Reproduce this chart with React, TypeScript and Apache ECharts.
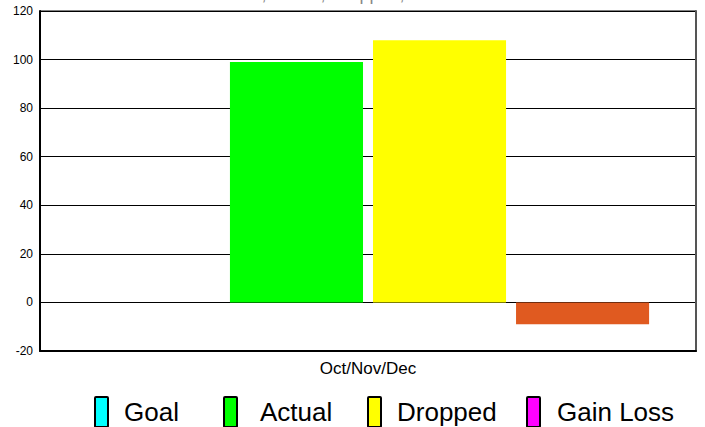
import React, { useEffect, useRef } from "react";
import * as echarts from "echarts";

const categories = ["Oct/Nov/Dec"];
const seriesNames = ["Goal", "Actual", "Dropped", "Gain Loss"];
const goalValues = [0];
const actualValues = [99];
const droppedValues = [108];
const gainLossValues = [-9];
const legendColors = ["#00FFFF", "#00FF00", "#FFFF00", "#FF00FF"];
const gainLossBarColor = "#E05A20";
const titleText = "Goal, Actual, Dropped, Gain Loss";

export default function App() {
  const ref = useRef<HTMLDivElement>(null);
  useEffect(() => {
    if (!ref.current) return;
    const chart = echarts.init(ref.current, null, { renderer: "svg" });
    const font = "Arial, 'Liberation Sans', sans-serif";
    const valueSets = [goalValues, actualValues, droppedValues, gainLossValues];
    const legendLefts = [94, 223, 367, 526];
    const legendTextPads = [11, 18, 11, 12];
    chart.setOption({
      animation: false,
      textStyle: { fontFamily: font },
      graphic: [
        {
          type: "text",
          style: {
            text: titleText,
            x: 357,
            y: 3,
            align: "center",
            verticalAlign: "bottom",
            font: `18px ${font}`,
            fill: "#888888",
          },
        },
      ],
      grid: {
        left: 40,
        right: 9,
        top: 11,
        bottom: 76,
        show: true,
        borderColor: "#000",
        borderWidth: 1,
        backgroundColor: "transparent",
      },
      legend: seriesNames.map((name, i) => ({
        data: [name],
        top: 396,
        left: legendLefts[i],
        padding: 0,
        itemWidth: 13,
        itemHeight: 30,
        icon: "path://M1,0 H12 Q13,0 13,1 V29 Q13,30 12,30 H1 Q0,30 0,29 V1 Q0,0 1,0 Z",
        itemStyle: { borderColor: "#000", borderWidth: 2 },
        textStyle: {
          fontSize: 26,
          color: "#000",
          fontFamily: font,
          padding: [0, 0, 0, legendTextPads[i]],
        },
      })),
      xAxis: {
        type: "category",
        data: categories,
        axisLine: { show: true, onZero: false, lineStyle: { color: "#000", width: 2 } },
        axisTick: { show: false },
        axisLabel: { fontSize: 17, color: "#000", margin: 9, fontFamily: font },
      },
      yAxis: [
        {
          type: "value",
          min: -20,
          max: 120,
          interval: 20,
          axisLine: { show: true, lineStyle: { color: "#000", width: 2 } },
          axisTick: { show: false },
          axisLabel: { fontSize: 12, color: "#000", margin: 7, fontFamily: font },
          splitLine: { show: true, lineStyle: { color: "#000", width: 1 } },
        },
        {
          type: "value",
          position: "right",
          min: -20,
          max: 120,
          interval: 20,
          axisLine: { show: true, lineStyle: { color: "#555", width: 2 } },
          axisTick: { show: false },
          axisLabel: { show: false },
          splitLine: { show: false },
        },
      ],
      series: seriesNames.map((name, i) => ({
        name,
        type: "bar",
        barCategoryGap: "14.3%",
        barGap: "7.5%",
        itemStyle: { color: legendColors[i] },
        data: valueSets[i].map((v) =>
          i === 3 ? { value: v, itemStyle: { color: gainLossBarColor } } : v
        ),
      })),
    });
    return () => chart.dispose();
  }, []);
  return <div ref={ref} style={{ width: 705, height: 427, position: "absolute", left: 0, top: 0 }} />;
}
